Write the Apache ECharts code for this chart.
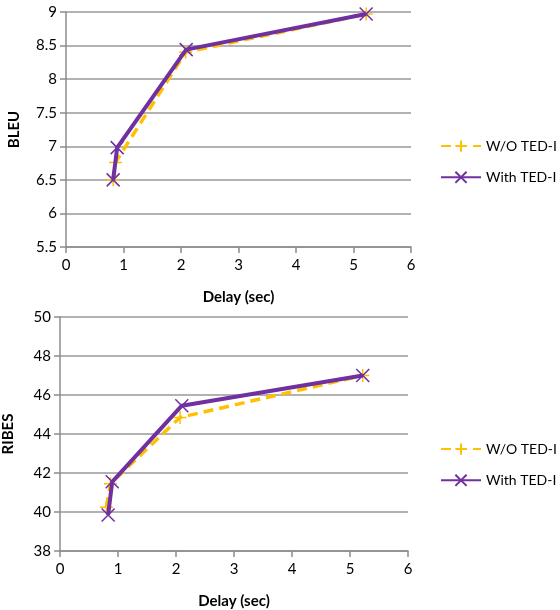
<!DOCTYPE html>
<html><head><meta charset="utf-8">
<script src="https://cdn.jsdelivr.net/npm/echarts@6/dist/echarts.min.js"></script>
<style>html,body{margin:0;padding:0;background:#fff}#c{width:560px;height:610px}</style>
</head><body><div id="c"></div>
<script>
const seriesNames = ['W/O TED-I', 'With TED-I'];
const xTicks = [0, 1, 2, 3, 4, 5, 6];
const bleuDelayWO = [0.82, 0.86, 2.08, 5.22];
const bleuWO = [6.5, 6.76, 8.40, 8.97];
const bleuDelayWith = [0.82, 0.89, 2.09, 5.22];
const bleuWith = [6.5, 6.98, 8.44, 8.97];
const ribesDelayWO = [0.80, 0.87, 2.07, 5.22];
const ribesWO = [40.25, 41.45, 44.85, 47.0];
const ribesDelayWith = [0.83, 0.90, 2.10, 5.22];
const ribesWith = [39.85, 41.55, 45.45, 47.0];

const FONT = 'Lato';
const plus = 'path://M5 0 L5 10 M0 5 L10 5';
const cross = 'path://M0 0 L10 10 M10 0 L0 10';
const YEL = '#FFC000', PUR = '#7030A0';
const pair = (xs, ys) => xs.map((x, i) => [x, ys[i]]);

function xAxis(idx) {
  return {
    type: 'value', gridIndex: idx, min: xTicks[0], max: xTicks[xTicks.length - 1], interval: 1,
    name: 'Delay (sec)', nameLocation: 'middle', nameGap: 43,
    nameTextStyle: { fontFamily: FONT, fontWeight: 'bold', fontSize: 15, color: '#000' },
    axisLine: { show: true, lineStyle: { color: '#8c8c8c', width: 1.5 } },
    axisTick: { show: true, length: 6, lineStyle: { color: '#8c8c8c', width: 1.5 } },
    axisLabel: { fontFamily: FONT, fontSize: 15, color: '#000', margin: 11 },
    splitLine: { show: false }
  };
}
function yAxis(idx, name, min, max, interval) {
  return {
    type: 'value', gridIndex: idx, min, max, interval,
    name, nameLocation: 'middle', nameGap: 44,
    nameTextStyle: { fontFamily: FONT, fontWeight: 'bold', fontSize: 15, color: '#000' },
    axisLine: { show: true, lineStyle: { color: '#8c8c8c', width: 1.5 } },
    axisTick: { show: true, length: 6, lineStyle: { color: '#8c8c8c', width: 1.5 } },
    axisLabel: { fontFamily: FONT, fontSize: 15, color: '#000', margin: 9 },
    splitLine: { show: true, lineStyle: { color: '#999', width: 1.5 } }
  };
}
function ser(idx, name, data, color, dashed, sym) {
  return {
    type: 'line', name, xAxisIndex: idx, yAxisIndex: idx, data,
    symbol: sym, symbolSize: 13, showSymbol: true,
    lineStyle: { color, width: dashed ? 3.5 : 4, type: dashed ? [10, 6] : 'solid' },
    itemStyle: { color: 'none', borderColor: color, borderWidth: 1.5 },
    z: dashed ? 2 : 3, animation: false
  };
}
function legend(top) {
  return {
    orient: 'vertical', left: 440, top, padding: 0, itemWidth: 40, itemHeight: 14, itemGap: 15,
    data: seriesNames.map(n => ({ name: n })),
    textStyle: { fontFamily: FONT, fontSize: 14, color: '#000' },
    selectedMode: false
  };
}
const chart = echarts.init(document.getElementById('c'), null, { renderer: 'canvas' });
chart.setOption({
  animation: false,
  grid: [
    { left: 66, top: 12, width: 345, height: 235, outerBoundsMode: 'none', containLabel: false },
    { left: 60, top: 317, width: 348, height: 234, outerBoundsMode: 'none', containLabel: false }
  ],
  xAxis: [xAxis(0), xAxis(1)],
  yAxis: [yAxis(0, 'BLEU', 5.5, 9, 0.5), yAxis(1, 'RIBES', 38, 50, 2)],
  legend: [legend(138), legend(441)],
  series: [
    ser(0, seriesNames[0], pair(bleuDelayWO, bleuWO), YEL, true, plus),
    ser(0, seriesNames[1], pair(bleuDelayWith, bleuWith), PUR, false, cross),
    ser(1, seriesNames[0], pair(ribesDelayWO, ribesWO), YEL, true, plus),
    ser(1, seriesNames[1], pair(ribesDelayWith, ribesWith), PUR, false, cross)
  ]
});
</script></body></html>
